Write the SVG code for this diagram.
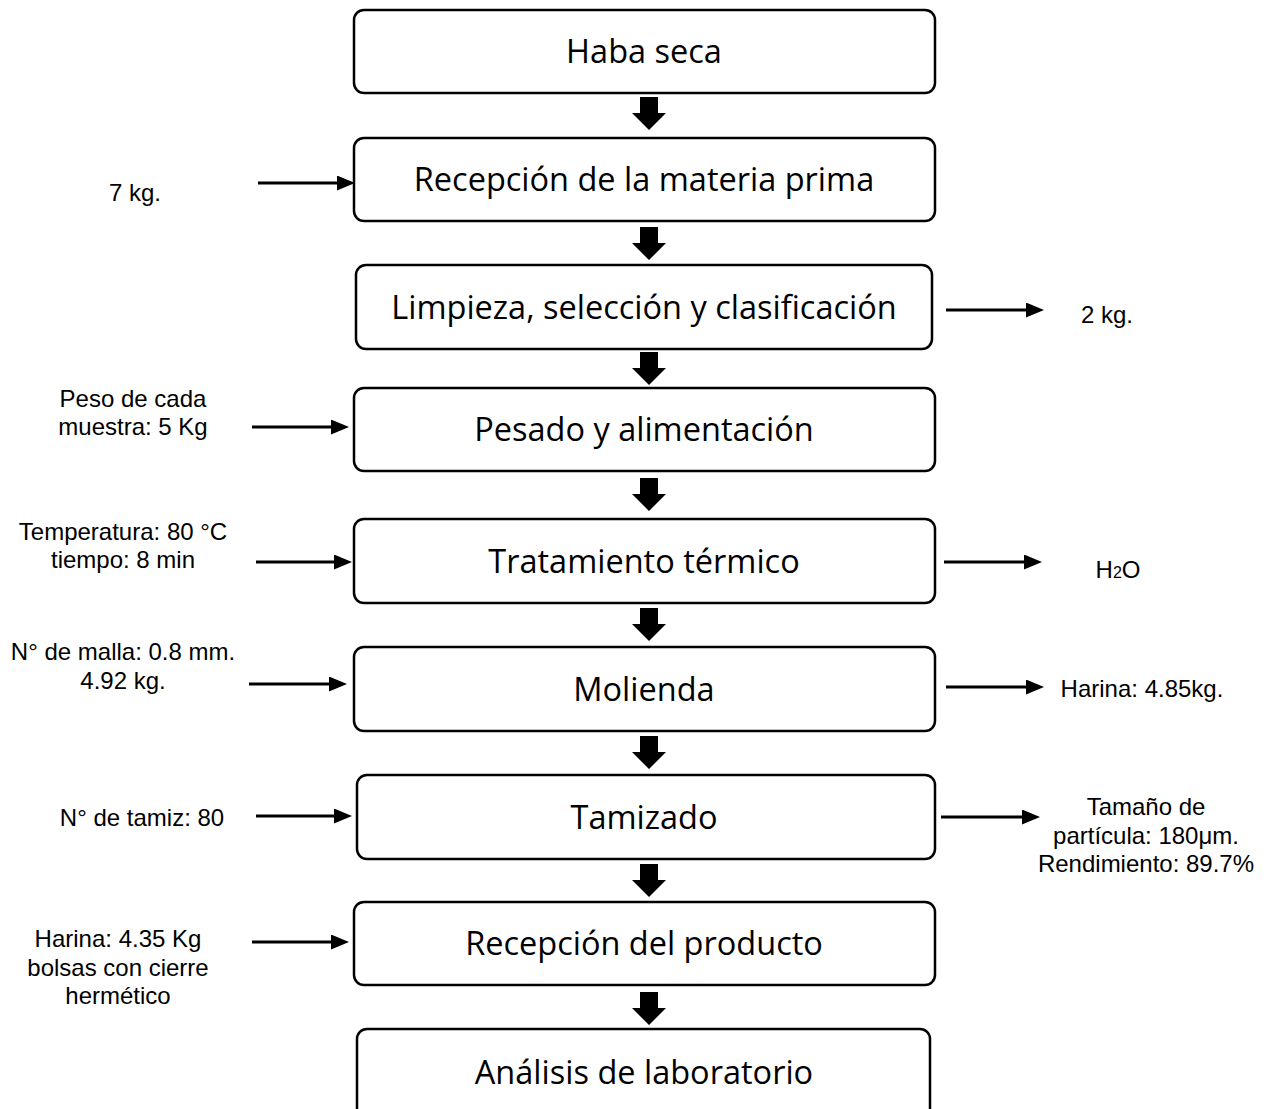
<svg xmlns="http://www.w3.org/2000/svg" width="1269" height="1109" viewBox="0 0 1269 1109">
<style>
.box{fill:#fff;stroke:#000;stroke-width:2.5}
.bt{font-family:"Open Sans","Noto Sans",sans-serif;font-size:32.5px;fill:#000;text-anchor:middle}
.st{font-family:"Liberation Sans",Arial,sans-serif;font-size:24px;fill:#000;text-anchor:middle}
.ln{stroke:#000;stroke-width:3;fill:none;marker-end:url(#ah)}
.blk{fill:#000}
</style>
<defs>
<marker id="ah" markerWidth="6" markerHeight="5" refX="0" refY="2.5" orient="auto" markerUnits="strokeWidth">
<path d="M0,0 L6,2.5 L0,5 Z" fill="#000"/>
</marker>
<path id="barrow" d="M-9,0 H9 V16 H17 L0,33 L-17,16 H-9 Z"/>
</defs>
<g id="node-haba"><rect class="box" x="354" y="10" width="581" height="83" rx="10"/><text class="bt" x="644" y="63">Haba seca</text></g>
<g id="node-recepcion"><rect class="box" x="354" y="138" width="581" height="83" rx="10"/><text class="bt" x="644" y="191">Recepción de la materia prima</text></g>
<g id="node-limpieza"><rect class="box" x="356" y="265" width="576" height="84" rx="10"/><text class="bt" x="644" y="319">Limpieza, selección y clasificación</text></g>
<g id="node-pesado"><rect class="box" x="354" y="388" width="581" height="83" rx="10"/><text class="bt" x="644" y="441">Pesado y alimentación</text></g>
<g id="node-tratamiento"><rect class="box" x="354" y="519" width="581" height="84" rx="10"/><text class="bt" x="644" y="573">Tratamiento térmico</text></g>
<g id="node-molienda"><rect class="box" x="354" y="647" width="581" height="84" rx="10"/><text class="bt" x="644" y="701">Molienda</text></g>
<g id="node-tamizado"><rect class="box" x="357" y="775" width="578" height="84" rx="10"/><text class="bt" x="644" y="829">Tamizado</text></g>
<g id="node-recprod"><rect class="box" x="354" y="902" width="581" height="83" rx="10"/><text class="bt" x="644" y="955">Recepción del producto</text></g>
<g id="node-analisis"><rect class="box" x="357" y="1029" width="573" height="100" rx="10"/><text class="bt" x="644" y="1084">Análisis de laboratorio</text></g>

<g id="labels">
<text class="st" x="135" y="201">7 kg.</text>
<text class="st" x="1107" y="323">2 kg.</text>
<text class="st" x="133" y="407">Peso de cada</text>
<text class="st" x="133" y="435">muestra: 5 Kg</text>
<text class="st" x="123" y="540">Temperatura: 80 °C</text>
<text class="st" x="123" y="568">tiempo: 8 min</text>
<text class="st" x="1118" y="578">H<tspan font-size="16">2</tspan>O</text>
<text class="st" x="123" y="660">N° de malla: 0.8 mm.</text>
<text class="st" x="123" y="689">4.92 kg.</text>
<text class="st" x="1142" y="697">Harina: 4.85kg.</text>
<text class="st" x="142" y="826">N° de tamiz: 80</text>
<text class="st" x="1146" y="815">Tamaño de</text>
<text class="st" x="1146" y="844">partícula: 180μm.</text>
<text class="st" x="1146" y="872">Rendimiento: 89.7%</text>
<text class="st" x="118" y="947">Harina: 4.35 Kg</text>
<text class="st" x="118" y="976">bolsas con cierre</text>
<text class="st" x="118" y="1004">hermético</text>
</g>

<g id="connectors">
<use href="#barrow" class="blk" x="649" y="97"/>
<use href="#barrow" class="blk" x="649" y="227"/>
<use href="#barrow" class="blk" x="649" y="352"/>
<use href="#barrow" class="blk" x="649" y="478"/>
<use href="#barrow" class="blk" x="649" y="608"/>
<use href="#barrow" class="blk" x="649" y="736"/>
<use href="#barrow" class="blk" x="649" y="864"/>
<use href="#barrow" class="blk" x="649" y="992"/>
<line class="ln" x1="258" y1="183" x2="337" y2="183"/>
<line class="ln" x1="946" y1="310" x2="1026" y2="310"/>
<line class="ln" x1="252" y1="427" x2="331" y2="427"/>
<line class="ln" x1="256" y1="562" x2="334" y2="562"/>
<line class="ln" x1="944" y1="562" x2="1024" y2="562"/>
<line class="ln" x1="249" y1="684" x2="329" y2="684"/>
<line class="ln" x1="946" y1="687" x2="1026" y2="687"/>
<line class="ln" x1="256" y1="816" x2="334" y2="816"/>
<line class="ln" x1="941" y1="817" x2="1022" y2="817"/>
<line class="ln" x1="252" y1="942" x2="331" y2="942"/>
</g>
</svg>
